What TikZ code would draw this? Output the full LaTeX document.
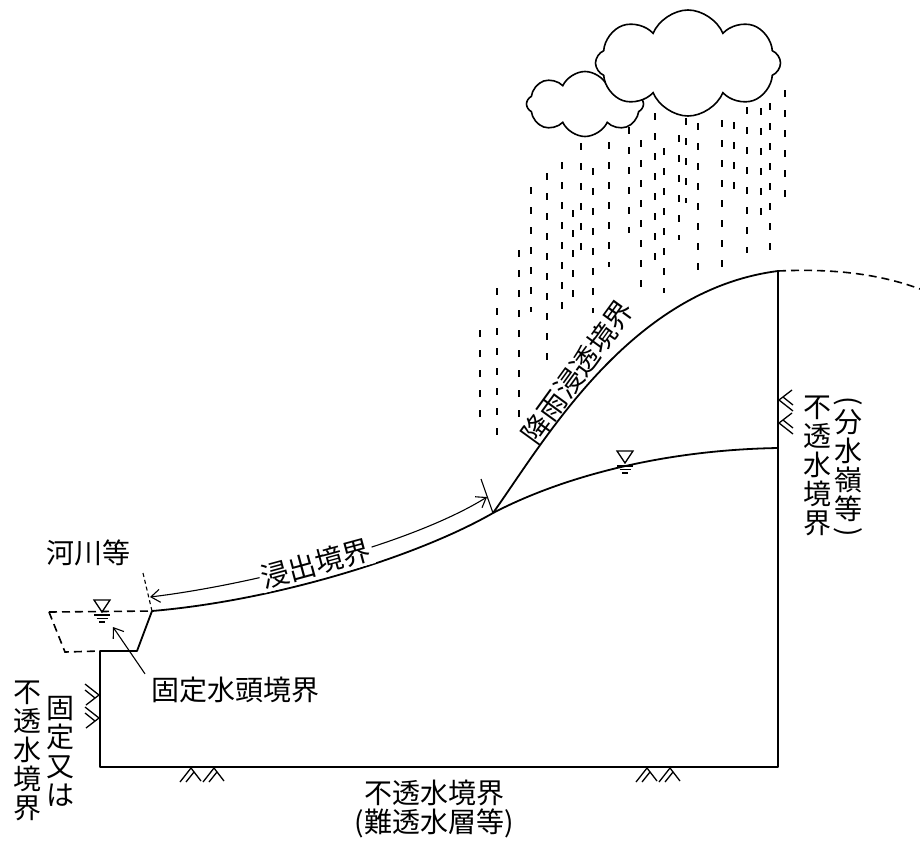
\documentclass[tikz,border=0pt]{standalone}
\usepackage{fontspec}
\newfontfamily\jpfont{Noto Sans CJK JP}
\usetikzlibrary{arrows.meta,shapes.symbols}

\tikzset{
  lbl/.style={font=\jpfont\fontsize{28}{29}\selectfont, inner sep=0pt},
  vlbl/.style={lbl, align=center},
  ground/.style={line width=1.8pt, line join=round},
  rain/.style={line width=1.4pt, dash pattern=on 7pt off 13pt},
  wetdash/.style={line width=1.6pt, dash pattern=on 8pt off 5pt},
  barb/.tip={Straight Barb[length=9pt,width=13pt]},
  dim/.style={line width=1.1pt},
  puff/.style={cloud, draw, fill=white, line width=1.6pt, inner sep=0pt},
  % impermeable wall mark, drawn on the +y side of the local x axis
  imperv/.pic={
    \draw[line width=1.3pt] (0,15) -- (11,1) -- (21,14) (6,15) -- (14,5);
    \draw[line width=1.3pt] (23,15) -- (34,1) -- (44,14) (29,15) -- (37,5);
  },
  % free water surface mark, origin on the water line
  wlevel/.pic={
    \draw[line width=1.3pt] (-8,-12) -- (8,-12) -- (0,0) -- cycle;
    \draw[line width=1.3pt] (-8,3) -- (8,3) (-5.5,6.5) -- (5.5,6.5) (-3,10) -- (3,10);
  },
}

\begin{document}
\begin{tikzpicture}[x=1pt, y=-1pt]
\useasboundingbox (0,0) rectangle (920,847);

% ground outline
\coordinate (boxTL) at (100,651);
\coordinate (boxBL) at (100,767);
\coordinate (boxBR) at (778,767);
\coordinate (bankFoot) at (137,651);
\coordinate (bankTop) at (152,611);
\coordinate (seep) at (493,513);
\coordinate (ridge) at (778,271);
\coordinate (wtR) at (778,448);

\draw[ground] (bankTop) -- (bankFoot) -- (boxTL) -- (boxBL) -- (boxBR) -- (ridge);
\draw[ground] (bankTop) .. controls (280,600) and (420,555) .. (seep);
\draw[ground] (seep) .. controls (545,440) and (630,290) .. (ridge);
\draw[ground] (seep) .. controls (560,478) and (660,450) .. (wtR);
\draw[wetdash] (ridge) .. controls (840,268) and (885,276) .. (920,289);

% river
\coordinate (rivL) at (49,612);
\coordinate (rivBL) at (65,652);
\draw[wetdash] (rivL) -- (bankTop);
\draw[wetdash] (rivL) -- (rivBL) -- (boxTL);
\pic at (102,612) {wlevel};
\pic at (625,463) {wlevel};

% impermeable walls
\pic at (180,767) {imperv};
\pic at (636,767) {imperv};
\pic[rotate=-90] at (100,684) {imperv};
\pic[rotate=90] at (778,434) {imperv};

% rain
\foreach \x/\a/\b in {480/330/417, 497/288/435, 519/250/418, 531/187/312,
    547/173/360, 562/162/322, 573/210/298, 581/143/250, 593/168/313,
    609/142/267, 629/127/233, 641/140/287, 655/113/260, 664/148/293,
    679/135/240, 686/118/203, 698/123/270, 722/120/267, 734/122/190,
    747/107/253, 761/108/215, 770/103/250, 785/90/197}
  \draw[rain] (\x,\a) -- (\x,\b);

% clouds
\node[puff, cloud puffs=8, cloud puff arc=130, minimum width=117pt, minimum height=65pt] (cloudS) at (585,104) {};
\node[puff, cloud puffs=8, cloud puff arc=135, minimum width=185pt, minimum height=106pt] (cloudL) at (688,63) {};

% seepage face
\coordinate (seepL) at (150,597);
\coordinate (seepR) at (487,497);
\draw[dim, dashed, dash pattern=on 4pt off 3pt] (143,573) -- (bankTop);
\draw[dim] (481,479) -- (seep);
\draw[dim, barb-barb] (seepL) .. controls (250,585) and (410,545) ..
  node[lbl, sloped, fill=white, inner sep=2pt, pos=0.47] (seeplbl) {浸出境界} (seepR);

% labels
\node[lbl, rotate=54] (rainlbl) at (577,372) {降雨浸透境界};
\node[lbl] (rivlbl) at (88,553) {河川等};
\node[lbl, anchor=west] (fixlbl) at (151,690) {固定水頭境界};
\coordinate (fixtip) at (113,627);
\draw[dim, -barb] ([shift={(-6,-3)}]fixlbl.north west) -- (fixtip);

\node[vlbl] (leftA) at (27,751) {不\\透\\水\\境\\界};
\node[vlbl] (leftB) at (60,751) {固\\定\\又\\は};
\node[vlbl] (botlbl) at (434,809) {不透水境界\\(難透水層等)};
\node[vlbl] (rightA) at (817,466) {不\\透\\水\\境\\界};
\node[vlbl] (rightB) at (848,466) {分\\水\\嶺\\等};
\node[lbl, rotate=-90] (parL) at (848,401) {(};
\node[lbl, rotate=-90] (parR) at (848,532) {)};

\end{tikzpicture}
\end{document}
